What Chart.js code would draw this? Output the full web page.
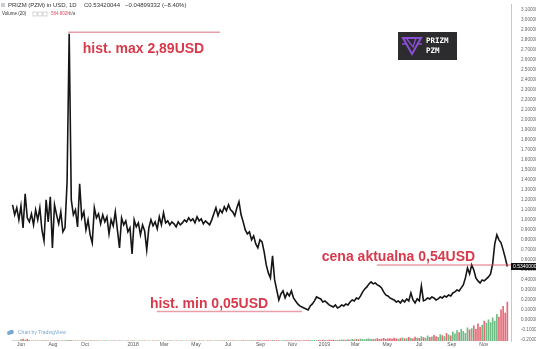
<!DOCTYPE html>
<html><head><meta charset="utf-8">
<script src="https://cdn.jsdelivr.net/npm/chart.js@4/dist/chart.umd.min.js"></script>
<style>html,body{margin:0;padding:0;background:#fff}#wrap{width:536px;height:349px;position:relative}</style>
</head><body><div id="wrap"><canvas id="c" width="536" height="349"></canvas></div>
<script>
// ---- data ----
const startDay = -16;   // days relative to 2017-06-01
const stepDays = 4;
const prices = [
1.15,1.05,1.12,1.00,1.14,0.92,1.26,1.02,0.98,1.06,0.95,1.10,1.00,1.12,0.90,0.79,1.20,0.98,1.23,0.72,
1.15,1.05,0.96,1.08,0.88,0.92,1.38,2.86,1.20,1.05,1.10,0.93,1.36,1.02,1.08,0.90,1.00,0.85,0.77,1.12,
1.02,1.06,0.96,1.05,0.98,1.03,0.86,1.00,0.94,1.08,0.90,0.72,1.02,0.95,0.99,0.88,0.92,0.66,1.00,0.93,
0.97,0.85,0.95,0.89,0.70,0.92,1.00,0.94,0.98,0.91,1.03,0.95,1.07,0.97,0.99,0.95,0.98,0.96,0.93,0.98,
0.95,0.97,1.00,0.98,1.02,0.99,1.01,0.97,1.03,0.99,1.01,0.96,0.99,0.97,0.95,1.00,1.06,1.12,1.04,1.10,
1.07,1.13,1.09,1.15,1.10,1.08,1.04,1.12,1.18,1.05,0.98,0.90,0.86,0.88,0.80,0.84,0.76,0.72,0.80,0.78,
0.68,0.55,0.47,0.42,0.64,0.40,0.30,0.20,0.26,0.29,0.22,0.27,0.24,0.29,0.22,0.19,0.16,0.14,0.13,0.12,
0.11,0.10,0.14,0.16,0.19,0.23,0.22,0.21,0.18,0.19,0.17,0.15,0.14,0.13,0.15,0.12,0.13,0.15,0.14,0.16,
0.15,0.18,0.20,0.19,0.22,0.21,0.24,0.28,0.31,0.33,0.36,0.38,0.36,0.37,0.35,0.34,0.32,0.28,0.25,0.24,
0.22,0.21,0.20,0.18,0.19,0.17,0.20,0.18,0.21,0.19,0.27,0.20,0.17,0.21,0.19,0.34,0.19,0.20,0.22,0.21,
0.23,0.22,0.20,0.21,0.23,0.22,0.24,0.23,0.25,0.24,0.27,0.28,0.30,0.29,0.32,0.35,0.42,0.52,0.46,0.55,
0.50,0.42,0.39,0.37,0.40,0.39,0.41,0.43,0.46,0.56,0.76,0.85,0.80,0.77,0.70,0.62,0.534
];
const volumes = [ // thousands
8,6,7,9,25,35,20,28,12,7,6,8,9,7,6,8,10,7,6,9,
8,7,6,8,9,7,12,15,10,8,9,7,6,8,7,6,7,8,6,7,
6,7,5,6,7,6,5,7,6,6,5,6,7,5,6,6,5,7,6,5,
6,5,6,7,5,6,5,6,5,7,6,5,6,5,6,7,6,5,6,5,
6,7,5,6,5,6,7,6,5,6,7,6,5,6,6,7,5,6,8,7,
6,7,8,6,7,9,8,7,8,9,10,8,9,11,8,10,9,12,10,9,
11,10,12,9,14,11,10,12,9,11,10,12,11,10,9,12,10,11,9,10,
12,10,14,12,15,11,16,13,18,14,12,17,15,20,16,14,18,22,17,19,
24,20,28,22,30,26,34,28,25,32,38,30,26,35,40,28,33,45,30,36,
42,34,48,38,30,44,52,36,40,58,46,38,62,50,44,70,55,48,80,60,
66,90,72,58,100,85,70,120,95,80,140,110,160,130,180,150,120,200,170,190,
230,180,260,210,240,300,270,320,280,350,300,400,360,470,520,420,585
];
const tickDays = [0,61,122,214,273,334,395,457,518,579,638,699,760,822,883];
const tickLabels = ['Jun','Aug','Oct','2018','Mar','May','Jul','Sep','Nov','2019','Mar','May','Jul','Sep','Nov'];
const yTickMin = -0.2, yTickMax = 3.1, yTickStep = 0.1;

// ---- build ----
const pricePts = prices.map((v,i)=>({x:startDay+i*stepDays, y:v}));
const volPts = volumes.map((v,i)=>({x:startDay+i*stepDays, y:v}));
const volColors = prices.map((v,i)=> (i>0 && v<prices[i-1]) ? 'rgba(226,80,96,0.85)' : 'rgba(86,176,112,0.85)');
const yTickVals = [];
for (let k=Math.round(yTickMin/yTickStep); k<=Math.round(yTickMax/yTickStep); k++) yTickVals.push(+(k*yTickStep).toFixed(2));

const notes = [
  {text:'hist. max 2,89USD', lineValue:2.875, lineFrom:90, lineTo:380, textDay:118, textValue:2.707},
  {text:'hist. min 0,05USD', lineValue:0.084, lineFrom:259, lineTo:536, textDay:246, textValue:0.153},
  {text:'cena aktualna 0,54USD', lineValue:prices[prices.length-1]+0.015, lineFrom:679, lineTo:null, textDay:574, textValue:0.625}
];

const deco = {
  id:'deco',
  afterDraw(chart){
    const ctx = chart.ctx, xs = chart.scales.x, ys = chart.scales.y, ca = chart.chartArea;
    ctx.save();
    // annotations
    notes.forEach(n=>{
      const y = ys.getPixelForValue(n.lineValue);
      const x1 = xs.getPixelForValue(n.lineFrom);
      const x2 = n.lineTo===null ? ca.right : xs.getPixelForValue(n.lineTo);
      ctx.strokeStyle = 'rgba(214,80,96,0.55)'; ctx.lineWidth = 1.5;
      ctx.beginPath(); ctx.moveTo(x1,y); ctx.lineTo(x2,y); ctx.stroke();
      ctx.fillStyle = '#d83a4c';
      ctx.font = 'bold 14px "Liberation Sans", Arial, sans-serif';
      ctx.textBaseline = 'middle'; ctx.textAlign = 'left';
      ctx.fillText(n.text, xs.getPixelForValue(n.textDay), ys.getPixelForValue(n.textValue));
    });
    // last price label
    const last = prices[prices.length-1];
    const ly = ys.getPixelForValue(last);
    ctx.fillStyle = '#111'; ctx.fillRect(ca.right, ly-3.5, 536-ca.right, 7);
    ctx.fillStyle = '#fff'; ctx.font = '5px "Liberation Sans", Arial, sans-serif';
    ctx.textBaseline='middle'; ctx.fillText(last.toFixed(8), ca.right+2, ly);
    // header
    ctx.fillStyle = '#c8ccd6'; ctx.fillRect(1,3,4,4);
    ctx.fillStyle = '#333'; ctx.font = '6px "Liberation Sans", Arial, sans-serif';
    ctx.fillText('PRIZM (PZM) in USD, 1D', 8, 5.5);
    ctx.fillText('C0.53420044   \u22120.04899332 (\u22128.40%)', 84, 5.5);
    ctx.font = '4.5px "Liberation Sans", Arial, sans-serif';
    ctx.fillText('Volume (20)', 2, 14);
    ctx.strokeStyle = '#bbb'; ctx.lineWidth = 0.6;
    [33,38,43].forEach(x=>ctx.strokeRect(x,12,4,4));
    ctx.fillStyle = '#e05565'; ctx.fillText('584.802K', 51, 14);
    ctx.fillStyle = '#555'; ctx.fillText('n/a', 69, 14);
    // logo
    ctx.fillStyle = '#2c2c2e'; ctx.fillRect(398,32,59,28);
    ctx.strokeStyle = '#8b4ed6'; ctx.lineWidth = 2;
    ctx.beginPath(); ctx.moveTo(403,38); ctx.lineTo(421,38); ctx.lineTo(412,54); ctx.closePath(); ctx.stroke();
    ctx.lineWidth = 1.3;
    ctx.beginPath(); ctx.moveTo(406,38); ctx.lineTo(413,47); ctx.lineTo(416,38); ctx.stroke();
    ctx.beginPath(); ctx.moveTo(402,44); ctx.lineTo(406,44); ctx.moveTo(418,44); ctx.lineTo(422,44); ctx.stroke();
    ctx.fillStyle = '#fff'; ctx.font = 'bold 7.5px "DejaVu Sans Mono", monospace';
    ctx.fillText('PRIZM', 426, 41); ctx.fillText('PZM', 426, 51);
    // tradingview
    ctx.fillStyle = '#7aa7cf';
    ctx.beginPath(); ctx.arc(9,333,2,0,Math.PI*2); ctx.arc(11.5,332,2.3,0,Math.PI*2); ctx.fill();
    ctx.font = '5px "Liberation Sans", Arial, sans-serif';
    ctx.fillText('Chart by TradingView', 18, 333);
    ctx.restore();
  }
};

new Chart(document.getElementById('c'), {
  type:'bar',
  data:{datasets:[
    {type:'line', data:pricePts, borderColor:'#151515', borderWidth:1.6, pointRadius:0, tension:0, yAxisID:'y', order:0},
    {type:'bar', data:volPts, backgroundColor:volColors, yAxisID:'v', barPercentage:1, categoryPercentage:0.8, order:1}
  ]},
  options:{
    responsive:false, animation:false,
    layout:{padding:0},
    plugins:{legend:{display:false}, tooltip:{enabled:false}},
    scales:{
      x:{type:'linear', min:-40, max:935, position:'bottom', offset:false,
        grid:{display:false, drawTicks:false}, border:{display:false},
        afterBuildTicks(s){ s.ticks = tickDays.map(v=>({value:v})); },
        ticks:{autoSkip:false, maxRotation:0, padding:1, color:'#555', font:{size:5, family:'"Liberation Sans", Arial'},
          callback(v){ const i = tickDays.indexOf(v); return i>=0 ? tickLabels[i] : ''; }}
      },
      y:{position:'right', min:-0.2104, max:3.149,
        grid:{display:false}, border:{display:true, color:'#c8c8c8'},
        afterBuildTicks(s){ s.ticks = yTickVals.map(v=>({value:v})); },
        afterFit(s){ s.width = 25; },
        ticks:{autoSkip:false, padding:2, color:'#666', font:{size:4.6, family:'"Liberation Sans", Arial'},
          callback(v){ return Number(v).toFixed(8); }}
      },
      v:{display:false, min:0, max:5000}
    }
  },
  plugins:[deco]
});
</script></body></html>
